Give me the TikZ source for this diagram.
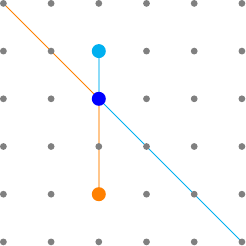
\documentclass[tikz,border=0pt]{standalone}
\definecolor{dotgray}{RGB}{128,128,128}
\definecolor{myorange}{RGB}{255,128,0}
\definecolor{mycyan}{RGB}{0,176,240}
\definecolor{myblue}{RGB}{0,0,255}
\begin{document}
\begin{tikzpicture}[x=1pt,y=-1pt,
  griddot/.style={circle,fill=dotgray,inner sep=0pt,minimum size=6.8pt},
  bigdot/.style={circle,inner sep=0pt,minimum size=14pt},
  diag/.style={line width=0.9pt},
  vert/.style={line width=1.6pt,draw opacity=0.45}]
\useasboundingbox (0,0) rectangle (246,246);
% coordinates of grid
\foreach \i in {0,...,5}{
  \foreach \j in {0,...,5}{
    \coordinate (g\i\j) at ({3.4+47.7*\i},{3.4+47.7*\j});
  }
}
% connectors
\draw[diag,myorange] (g00) -- (g22);
\draw[diag,mycyan] (g22) -- (g55);
\draw[vert,mycyan] (g21) -- (g22);
\draw[vert,myorange] (g22) -- (g24);
% grid dots
\foreach \i in {0,...,5}{
  \foreach \j in {0,...,5}{
    \node[griddot] (d\i\j) at (g\i\j) {};
  }
}
% colored dots
\node[bigdot,fill=mycyan] (c) at (g21) {};
\node[bigdot,fill=myblue] (b) at (g22) {};
\node[bigdot,fill=myorange] (o) at (g24) {};
\end{tikzpicture}
\end{document}
